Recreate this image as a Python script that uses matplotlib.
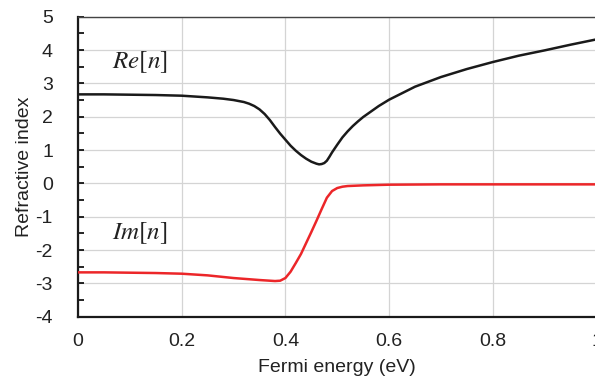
import matplotlib
matplotlib.use("Agg")
import matplotlib.pyplot as plt
from matplotlib.ticker import MultipleLocator

# ─────────────────────────────────────────────
# Data
# ─────────────────────────────────────────────

re_energy = [0.00, 0.05, 0.10, 0.15, 0.20, 0.25, 0.28, 0.30, 0.32, 0.33,
             0.34, 0.35, 0.36, 0.37, 0.38, 0.39, 0.40, 0.41, 0.42, 0.43, 0.44,
             0.45, 0.46, 0.465, 0.47, 0.475, 0.48, 0.485, 0.49, 0.50, 0.51,
             0.52, 0.53, 0.54, 0.55, 0.56, 0.58, 0.60, 0.65, 0.70, 0.75,
             0.80, 0.85, 0.90, 0.95, 1.00]
re_n = [2.67, 2.67, 2.66, 2.65, 2.63, 2.58, 2.54, 2.50, 2.44, 2.39,
        2.32, 2.22, 2.08, 1.90, 1.69, 1.49, 1.31, 1.13, 0.98, 0.85, 0.74,
        0.65, 0.59, 0.57, 0.58, 0.61, 0.68, 0.80, 0.93, 1.16, 1.38,
        1.56, 1.72, 1.86, 1.99, 2.10, 2.32, 2.51, 2.90, 3.19, 3.43,
        3.64, 3.83, 3.99, 4.16, 4.32]

im_energy = [0.00, 0.05, 0.10, 0.15, 0.20, 0.25, 0.30, 0.35, 0.37, 0.38,
             0.39, 0.40, 0.41, 0.42, 0.43, 0.44, 0.45, 0.46, 0.47, 0.48,
             0.49, 0.50, 0.51, 0.52, 0.55, 0.60, 0.70, 0.80, 0.90, 1.00]
im_n = [-2.67, -2.67, -2.68, -2.69, -2.71, -2.76, -2.84, -2.90, -2.92, -2.93,
        -2.92, -2.84, -2.65, -2.39, -2.12, -1.79, -1.46, -1.12, -0.77, -0.43,
        -0.23, -0.14, -0.10, -0.08, -0.06, -0.04, -0.03, -0.03, -0.03, -0.03]

x_ticks = [0, 0.2, 0.4, 0.6, 0.8, 1.0]
x_tick_labels = ["0", "0.2", "0.4", "0.6", "0.8", "1"]
y_ticks = [-4, -3, -2, -1, 0, 1, 2, 3, 4, 5]

# ─────────────────────────────────────────────
# Plot
# ─────────────────────────────────────────────

plt.rcParams["font.family"] = ["Liberation Sans", "DejaVu Sans"]
plt.rcParams["mathtext.fontset"] = "stix"
plt.rcParams["axes.unicode_minus"] = False  # plain hyphen like the original

fig = plt.figure(figsize=(5.95, 3.81), dpi=100)
ax = fig.add_axes([78 / 595, 64.3 / 381, 518.5 / 595, 300 / 381])

ax.plot(re_energy, re_n, color="#1a1a1a", linewidth=1.8, zorder=3)
ax.plot(im_energy, im_n, color="#ec2629", linewidth=1.8, zorder=3)

ax.text(0.12, 3.64, r"$Re[n]$", fontsize=18, ha="center", va="center",
        color="#222222")
ax.text(0.12, -1.49, r"$Im[n]$", fontsize=18, ha="center", va="center",
        color="#222222")

ax.set_xlim(0, 1)
ax.set_ylim(-4, 5)
ax.set_xticks(x_ticks)
ax.set_xticklabels(x_tick_labels)
ax.set_yticks(y_ticks)
ax.yaxis.set_minor_locator(MultipleLocator(0.5))

ax.grid(which="major", color="#d4d4d4", linewidth=0.9, zorder=0)
ax.set_axisbelow(True)

ax.tick_params(axis="x", which="both", length=0, pad=12, labelsize=14,
               labelcolor="#222222")
ax.tick_params(axis="y", which="major", direction="in", length=4.5, width=1.2,
               pad=18, labelsize=14, labelcolor="#222222")
ax.tick_params(axis="y", which="minor", direction="in", length=4.5, width=1.2)

for side in ["left", "bottom"]:
    ax.spines[side].set_linewidth(1.6)
    ax.spines[side].set_color("#1a1a1a")
ax.spines["top"].set_linewidth(1.0)
ax.spines["top"].set_color("#444444")
ax.spines["right"].set_visible(False)

ax.set_xlabel("Fermi energy (eV)", fontsize=14, color="#222222", labelpad=6)
ax.set_ylabel("Refractive index", fontsize=14, color="#222222", labelpad=2)

fig.savefig("out.png", dpi=100)
